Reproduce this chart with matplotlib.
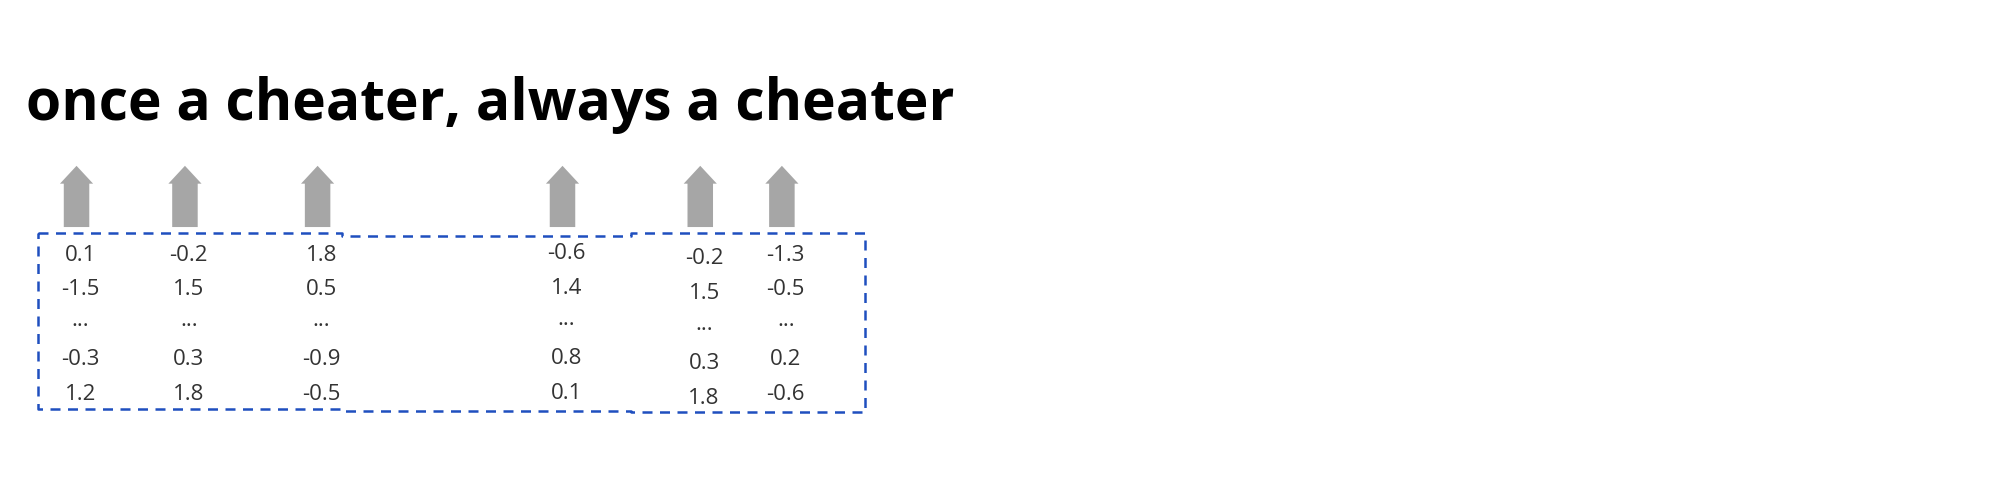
import matplotlib
matplotlib.use("Agg")
import matplotlib.pyplot as plt
from matplotlib.patches import FancyArrow

title = "once a cheater, always a cheater"
col_x = [63, 148, 252, 444, 552, 616]
col_values = [
    ["0.1", "-1.5", "...", "-0.3", "1.2"],
    ["-0.2", "1.5", "...", "0.3", "1.8"],
    ["1.8", "0.5", "...", "-0.9", "-0.5"],
    ["-0.6", "1.4", "...", "0.8", "0.1"],
    ["-0.2", "1.5", "...", "0.3", "1.8"],
    ["-1.3", "-0.5", "...", "0.2", "-0.6"],
]
col_y0 = [200, 200, 200, 199, 203, 200]

fig = plt.figure(figsize=(20, 5), dpi=100)
ax = fig.add_axes([0, 0, 1, 1])
ax.set_xlim(0, 1568)
ax.set_ylim(392, 0)
ax.axis("off")

ax.text(20, 94, title, fontsize=41, fontweight="bold", family="Open Sans",
        va="baseline", ha="left", color="black")

for x, vals, y0 in zip(col_x, col_values, col_y0):
    ax.add_patch(FancyArrow(x - 3, 178, 0, -48, width=20, head_width=26,
                            head_length=14, length_includes_head=True,
                            color="#a6a6a6", lw=0))
    for i, v in enumerate(vals):
        yy = y0 + i * 27.3 + (-3 if v == "..." else 0)
        ax.text(x, yy, v, fontsize=16, family="Open Sans", ha="center",
                va="center", color="#333333")

bx = [30, 268, 268, 495, 495, 678, 678, 495, 495, 268, 268, 30, 30]
by = [183, 183, 185, 185, 183, 183, 323, 323, 322, 322, 321, 321, 183]
ax.plot(bx, by, ls=(0, (4, 3)), color="#1f4fbf", lw=1.8)

fig.savefig("out.png", dpi=100)
